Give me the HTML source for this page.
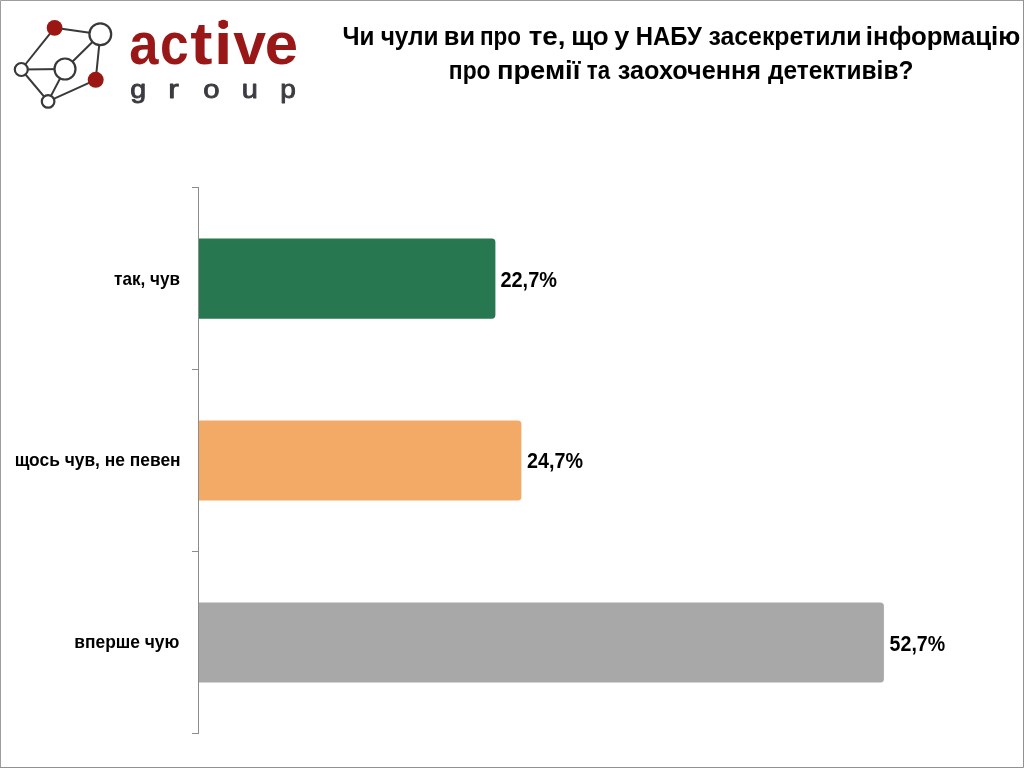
<!DOCTYPE html>
<html lang="uk">
<head>
<meta charset="utf-8">
<title>Чи чули ви про те, що у НАБУ засекретили інформацію про премії та заохочення детективів?</title>
<style>
html,body{margin:0;padding:0;background:#fff;}
body{width:1024px;height:768px;overflow:hidden;position:relative;}
svg{display:block;position:absolute;left:0;top:0;will-change:transform;}
text{font-family:"Liberation Sans",Arial,sans-serif;font-weight:bold;}
</style>
</head>
<body>
<svg width="1024" height="768" viewBox="0 0 1024 768">
  <rect x="0" y="0" width="1024" height="768" fill="#ffffff"/>
  <!-- frame -->
  <path d="M0.5 767 V0.5 H1023" fill="none" stroke="#9d9d9d" stroke-width="1"/>
  <path d="M1023.5 0 V767.5 H0" fill="none" stroke="#919191" stroke-width="1"/>

  <!-- logo icon -->
  <g stroke="#393939" stroke-width="2" fill="none" stroke-linecap="round">
    <line x1="54.6" y1="27.8" x2="100.3" y2="34.3"/>
    <line x1="54.6" y1="27.8" x2="21.3" y2="69.5"/>
    <line x1="100.3" y1="34.3" x2="65" y2="69"/>
    <line x1="100.3" y1="34.3" x2="95.7" y2="79.8"/>
    <line x1="21.3" y1="69.5" x2="65" y2="69"/>
    <line x1="21.3" y1="69.5" x2="48.1" y2="101.4"/>
    <line x1="65" y1="69" x2="48.1" y2="101.4"/>
    <line x1="48.1" y1="101.4" x2="95.7" y2="79.8"/>
  </g>
  <g stroke="#393939" stroke-width="2.2" fill="#ffffff">
    <circle cx="100.3" cy="34.3" r="10.9"/>
    <circle cx="65" cy="69" r="10.5"/>
    <circle cx="21.3" cy="69.5" r="6.5"/>
    <circle cx="48.1" cy="101.4" r="6.3"/>
  </g>
  <g fill="#9a1714">
    <circle cx="54.6" cy="27.8" r="7.9"/>
    <circle cx="95.7" cy="79.8" r="8"/>
  </g>

  <text x="129.20" y="63.8" font-size="59" fill="#9a1717" textLength="29.23" lengthAdjust="spacingAndGlyphs">a</text>
  <text x="160.07" y="63.8" font-size="59" fill="#9a1717" textLength="28.63" lengthAdjust="spacingAndGlyphs">c</text>
  <text x="190.17" y="63.8" font-size="59" fill="#9a1717" textLength="22.26" lengthAdjust="spacingAndGlyphs">t</text>
  <text x="214.14" y="63.8" font-size="59" fill="#9a1717" textLength="18.39" lengthAdjust="spacingAndGlyphs">i</text>
  <text x="233.17" y="63.8" font-size="59" fill="#9a1717" textLength="32.81" lengthAdjust="spacingAndGlyphs">v</text>
  <text x="264.65" y="63.8" font-size="59" fill="#9a1717" textLength="33.32" lengthAdjust="spacingAndGlyphs">e</text>
  <text x="130.17" y="97.8" font-size="26.5" fill="#3b3b41" textLength="15.92" lengthAdjust="spacingAndGlyphs" font-weight="normal" style="font-weight:normal" stroke="#3b3b41" stroke-width="0.9" stroke-linejoin="round">g</text>
  <text x="168.30" y="97.8" font-size="26.5" fill="#3b3b41" textLength="10.56" lengthAdjust="spacingAndGlyphs" font-weight="normal" style="font-weight:normal" stroke="#3b3b41" stroke-width="0.9" stroke-linejoin="round">r</text>
  <text x="203.33" y="97.8" font-size="26.5" fill="#3b3b41" textLength="16.35" lengthAdjust="spacingAndGlyphs" font-weight="normal" style="font-weight:normal" stroke="#3b3b41" stroke-width="0.9" stroke-linejoin="round">o</text>
  <text x="241.73" y="97.8" font-size="26.5" fill="#3b3b41" textLength="16.14" lengthAdjust="spacingAndGlyphs" font-weight="normal" style="font-weight:normal" stroke="#3b3b41" stroke-width="0.9" stroke-linejoin="round">u</text>
  <text x="280.38" y="97.8" font-size="26.5" fill="#3b3b41" textLength="15.60" lengthAdjust="spacingAndGlyphs" font-weight="normal" style="font-weight:normal" stroke="#3b3b41" stroke-width="0.9" stroke-linejoin="round">p</text>
  <text x="342.51" y="44.7" font-size="25.5" fill="#000" textLength="31.94" lengthAdjust="spacingAndGlyphs">Чи</text>
  <text x="380.63" y="44.7" font-size="25.5" fill="#000" textLength="57.97" lengthAdjust="spacingAndGlyphs">чули</text>
  <text x="443.80" y="44.7" font-size="25.5" fill="#000" textLength="31.18" lengthAdjust="spacingAndGlyphs">ви</text>
  <text x="479.91" y="44.7" font-size="25.5" fill="#000" textLength="41.08" lengthAdjust="spacingAndGlyphs">про</text>
  <text x="528.67" y="44.7" font-size="25.5" fill="#000" textLength="36.88" lengthAdjust="spacingAndGlyphs">те,</text>
  <text x="571.17" y="44.7" font-size="25.5" fill="#000" textLength="37.44" lengthAdjust="spacingAndGlyphs">що</text>
  <text x="614.34" y="44.7" font-size="25.5" fill="#000" textLength="15.00" lengthAdjust="spacingAndGlyphs">у</text>
  <text x="635.86" y="44.7" font-size="25.5" fill="#000" textLength="65.90" lengthAdjust="spacingAndGlyphs">НАБУ</text>
  <text x="708.43" y="44.7" font-size="25.5" fill="#000" textLength="153.12" lengthAdjust="spacingAndGlyphs">засекретили</text>
  <text x="865.86" y="44.7" font-size="25.5" fill="#000" textLength="154.50" lengthAdjust="spacingAndGlyphs">інформацію</text>
  <text x="448.86" y="79.3" font-size="25.5" fill="#000" textLength="41.70" lengthAdjust="spacingAndGlyphs">про</text>
  <text x="496.91" y="79.3" font-size="25.5" fill="#000" textLength="83.48" lengthAdjust="spacingAndGlyphs">премії</text>
  <text x="586.86" y="79.3" font-size="25.5" fill="#000" textLength="23.26" lengthAdjust="spacingAndGlyphs">та</text>
  <text x="617.84" y="79.3" font-size="25.5" fill="#000" textLength="143.26" lengthAdjust="spacingAndGlyphs">заохочення</text>
  <text x="767.93" y="79.3" font-size="25.5" fill="#000" textLength="145.48" lengthAdjust="spacingAndGlyphs">детективів?</text>
  <text x="114.11" y="284.6" font-size="18.5" fill="#000" textLength="65.91" lengthAdjust="spacingAndGlyphs">так, чув</text>
  <text x="14.64" y="466.2" font-size="18.5" fill="#000" textLength="165.99" lengthAdjust="spacingAndGlyphs">щось чув, не певен</text>
  <text x="74.31" y="648.4" font-size="18.5" fill="#000" textLength="105.06" lengthAdjust="spacingAndGlyphs">вперше чую</text>
  <text x="500.48" y="286.8" font-size="21.5" fill="#000" textLength="56.42" lengthAdjust="spacingAndGlyphs">22,7%</text>
  <text x="527.08" y="468.2" font-size="21.5" fill="#000" textLength="55.88" lengthAdjust="spacingAndGlyphs">24,7%</text>
  <text x="889.61" y="650.6" font-size="21.5" fill="#000" textLength="55.57" lengthAdjust="spacingAndGlyphs">52,7%</text>
  <circle cx="223.3" cy="24.4" r="4.7" fill="#9a1717"/>

  <!-- axis -->
  <g stroke="#8c8c8c" stroke-width="1" fill="none">
    <line x1="198.5" y1="187" x2="198.5" y2="734"/>
    <line x1="192" y1="187.5" x2="199" y2="187.5"/>
    <line x1="192" y1="369.5" x2="199" y2="369.5"/>
    <line x1="192" y1="551.5" x2="199" y2="551.5"/>
    <line x1="192" y1="733.5" x2="199" y2="733.5"/>
  </g>

  <!-- bars -->
  <path d="M199 238.5 H491.80 A3.6 3.6 0 0 1 495.4 242.10 V315.10 A3.6 3.6 0 0 1 491.80 318.7 H199 Z" fill="#277750"/>
  <path d="M199 420.6 H517.80 A3.6 3.6 0 0 1 521.4 424.20 V497.00 A3.6 3.6 0 0 1 517.80 500.6 H199 Z" fill="#f2aa66"/>
  <path d="M199 602.6 H880.30 A3.6 3.6 0 0 1 883.9 606.20 V679.00 A3.6 3.6 0 0 1 880.30 682.6 H199 Z" fill="#a8a8a8"/>

  </svg>
</body>
</html>
